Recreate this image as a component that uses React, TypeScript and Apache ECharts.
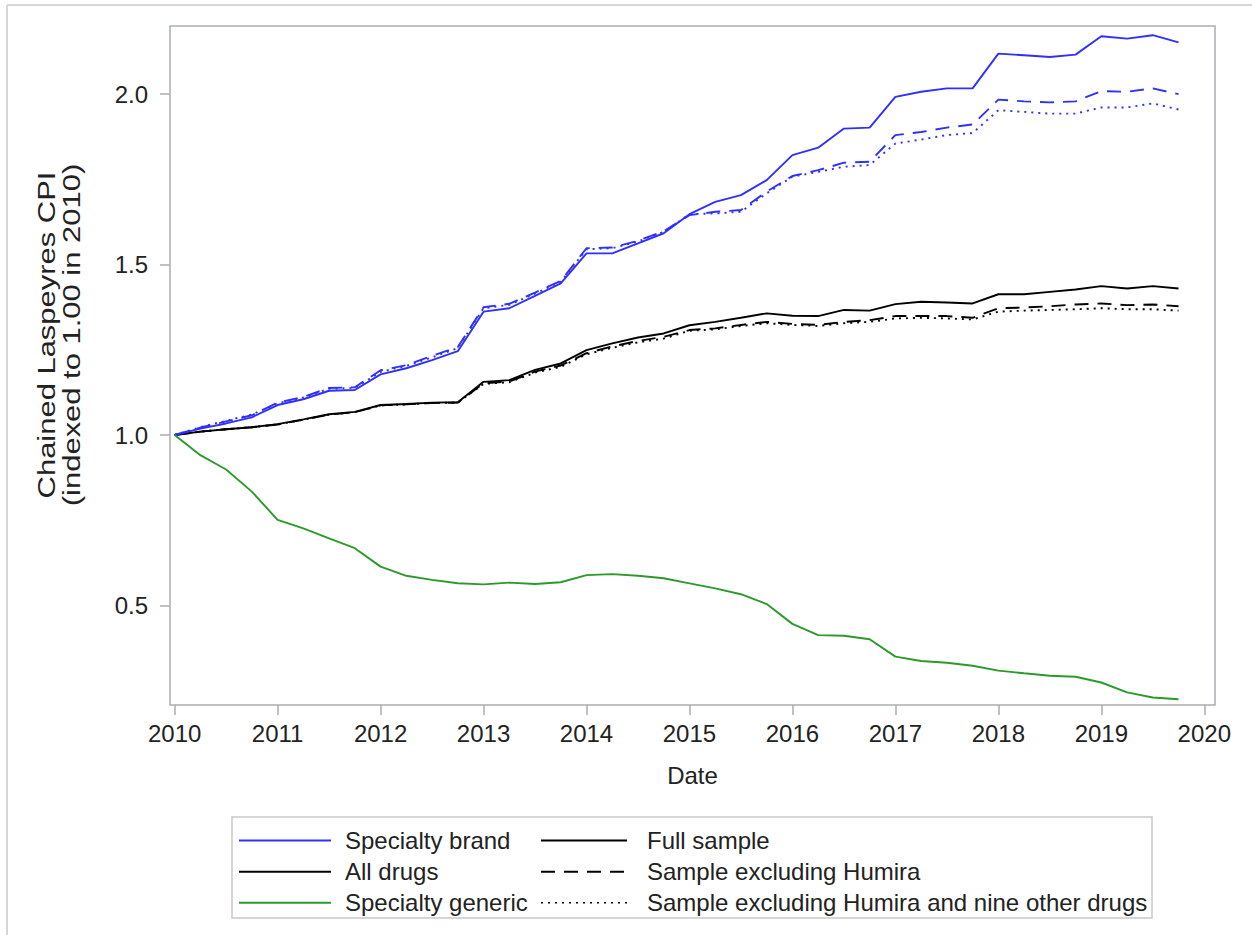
import { useEffect, useRef } from 'react';
import * as echarts from 'echarts';

// Quarter start dates (decimal years)
const quarters = [
  2010, 2010.25, 2010.5, 2010.75, 2011, 2011.25, 2011.5, 2011.75,
  2012, 2012.25, 2012.5, 2012.75, 2013, 2013.25, 2013.5, 2013.75,
  2014, 2014.25, 2014.5, 2014.75, 2015, 2015.25, 2015.5, 2015.75,
  2016, 2016.25, 2016.5, 2016.75, 2017, 2017.25, 2017.5, 2017.75,
  2018, 2018.25, 2018.5, 2018.75, 2019, 2019.25, 2019.5, 2019.75,
];

const xTicks = [2010, 2011, 2012, 2013, 2014, 2015, 2016, 2017, 2018, 2019, 2020];
const yTicks = [0.5, 1.0, 1.5, 2.0];
const yTitleLines = ['Chained Laspeyres CPI', '(indexed to 1.00 in 2010)'];
const xTitle = 'Date';

// Specialty brand
const specialtyBrandFull = [
  1.000, 1.019, 1.034, 1.052, 1.088, 1.105, 1.130, 1.132, 1.178, 1.196,
  1.220, 1.246, 1.362, 1.372, 1.408, 1.445, 1.533, 1.533, 1.562, 1.592,
  1.648, 1.684, 1.704, 1.748, 1.821, 1.843, 1.899, 1.902, 1.992, 2.007,
  2.017, 2.017, 2.119, 2.114, 2.109, 2.116, 2.170, 2.163, 2.173, 2.152,
];
const specialtyBrandExHumira = [
  1.000, 1.022, 1.040, 1.058, 1.095, 1.112, 1.138, 1.140, 1.190, 1.205,
  1.232, 1.258, 1.375, 1.385, 1.418, 1.452, 1.548, 1.550, 1.570, 1.598,
  1.645, 1.655, 1.660, 1.714, 1.760, 1.777, 1.799, 1.802, 1.880, 1.889,
  1.902, 1.911, 1.984, 1.979, 1.976, 1.979, 2.009, 2.007, 2.017, 2.000,
];
const specialtyBrandExTen = [
  1.000, 1.023, 1.042, 1.060, 1.093, 1.110, 1.136, 1.138, 1.185, 1.203,
  1.228, 1.255, 1.372, 1.382, 1.415, 1.450, 1.545, 1.548, 1.568, 1.596,
  1.648, 1.650, 1.655, 1.709, 1.758, 1.772, 1.787, 1.792, 1.855, 1.867,
  1.880, 1.886, 1.953, 1.948, 1.943, 1.943, 1.961, 1.961, 1.973, 1.955,
];

// All drugs
const allDrugsFull = [
  1.000, 1.010, 1.017, 1.023, 1.032, 1.046, 1.061, 1.068, 1.088, 1.091,
  1.095, 1.096, 1.156, 1.161, 1.191, 1.210, 1.249, 1.269, 1.286, 1.298,
  1.322, 1.332, 1.344, 1.357, 1.350, 1.349, 1.367, 1.365, 1.384, 1.391,
  1.389, 1.386, 1.413, 1.413, 1.420, 1.427, 1.437, 1.430, 1.437, 1.430,
];
const allDrugsExHumira = [
  1.000, 1.010, 1.017, 1.023, 1.031, 1.045, 1.060, 1.067, 1.087, 1.090,
  1.094, 1.095, 1.152, 1.157, 1.186, 1.204, 1.240, 1.260, 1.276, 1.288,
  1.308, 1.313, 1.323, 1.332, 1.326, 1.323, 1.332, 1.337, 1.349, 1.349,
  1.349, 1.344, 1.372, 1.374, 1.378, 1.383, 1.386, 1.381, 1.383, 1.378,
];
const allDrugsExTen = [
  1.000, 1.010, 1.017, 1.023, 1.031, 1.045, 1.060, 1.067, 1.087, 1.090,
  1.094, 1.095, 1.150, 1.155, 1.183, 1.200, 1.237, 1.256, 1.272, 1.283,
  1.306, 1.310, 1.320, 1.328, 1.323, 1.320, 1.328, 1.332, 1.342, 1.344,
  1.342, 1.339, 1.362, 1.365, 1.367, 1.369, 1.372, 1.369, 1.369, 1.365,
];

// Specialty generic
const specialtyGeneric = [
  1.000, 0.941, 0.899, 0.834, 0.751, 0.726, 0.697, 0.668, 0.614, 0.587,
  0.575, 0.565, 0.562, 0.567, 0.563, 0.568, 0.589, 0.592, 0.587, 0.580,
  0.565, 0.550, 0.533, 0.504, 0.446, 0.413, 0.411, 0.401, 0.350, 0.337,
  0.332, 0.323, 0.309, 0.301, 0.294, 0.291, 0.274, 0.245, 0.230, 0.225,
];

const groupNames = ['Specialty brand', 'All drugs', 'Specialty generic'];
const sampleNames = ['Full sample', 'Sample excluding Humira', 'Sample excluding Humira and nine other drugs'];

const BLUE = '#2f2fff';
const BLACK = '#000000';
const GREEN = '#2b9a2b';
const FRAME = '#a9aeb3';
const TEXT = '#222222';
const FONT = 'Arial, "Liberation Sans", Helvetica, sans-serif';
const DASHED: number[] = [14, 9];
const DOTTED: number[] = [2, 5];

const pairs = (vals: number[]) => quarters.map((q, i) => [q, vals[i]]);

const mkSeries = (name: string, vals: number[], color: string, type: any) => ({
  name,
  type: 'line',
  data: pairs(vals),
  showSymbol: false,
  symbol: 'none',
  lineStyle: { color, width: 1.9, type, cap: 'butt' },
  itemStyle: { color },
  z: 3,
});

export default function App() {
  const ref = useRef<HTMLDivElement>(null);

  useEffect(() => {
    if (!ref.current) return;
    const chart = echarts.init(ref.current, null, { renderer: 'svg' });

    const legendRows = [840.5, 871.7, 902.7];
    const groupColors = [BLUE, BLACK, GREEN];
    const sampleDash: any[] = [null, DASHED, DOTTED];
    const legendGraphics: any[] = [
      {
        type: 'rect',
        shape: { x: 232, y: 817, width: 920, height: 101 },
        style: { fill: 'none', stroke: '#c9c9c9', lineWidth: 1.5 },
        silent: true,
      },
    ];
    legendRows.forEach((y, i) => {
      legendGraphics.push({
        type: 'line',
        shape: { x1: 239, y1: y, x2: 331, y2: y },
        style: { stroke: groupColors[i], lineWidth: 2 },
        silent: true,
      });
      legendGraphics.push({
        type: 'text',
        style: {
          text: groupNames[i], x: 345, y, fill: TEXT, fontSize: 24, fontFamily: FONT,
          align: 'left', verticalAlign: 'middle',
        },
        silent: true,
      });
      legendGraphics.push({
        type: 'line',
        shape: { x1: 541, y1: y, x2: 627, y2: y },
        style: { stroke: BLACK, lineWidth: i === 2 ? 1.5 : 2, lineDash: sampleDash[i] || undefined },
        silent: true,
      });
      legendGraphics.push({
        type: 'text',
        style: {
          text: sampleNames[i], x: 647, y, fill: TEXT, fontSize: 24, fontFamily: FONT,
          align: 'left', verticalAlign: 'middle',
        },
        silent: true,
      });
    });

    const yTitleGraphics = yTitleLines.map((t, i) => ({
      type: 'text',
      x: 47 + i * 25,
      y: 335,
      rotation: Math.PI / 2,
      scaleX: 1.29,
      scaleY: 1,
      style: {
        text: t, x: 0, y: 0, fill: TEXT, fontSize: 24, fontFamily: FONT,
        align: 'center', verticalAlign: 'middle',
      },
      silent: true,
    }));

    const option: any = {
      animation: false,
      backgroundColor: '#ffffff',
      textStyle: { fontFamily: FONT },
      grid: {
        left: 170, top: 26, width: 1045, height: 679,
        show: true, borderColor: FRAME, borderWidth: 1.5, backgroundColor: 'transparent',
        containLabel: false,
      },
      xAxis: {
        type: 'value',
        min: 2009.955,
        max: 2020.104,
        axisLine: { show: false },
        splitLine: { show: false },
        axisTick: { show: true, length: 10, lineStyle: { color: FRAME, width: 1.5 }, customValues: xTicks },
        axisLabel: {
          customValues: xTicks, color: TEXT, fontSize: 24, fontFamily: FONT, margin: 16,
          formatter: (v: number) => String(Math.round(v)),
        },
        name: xTitle,
        nameLocation: 'middle',
        nameGap: 58,
        nameTextStyle: { color: TEXT, fontSize: 24, fontFamily: FONT },
      },
      yAxis: {
        type: 'value',
        min: 0.208,
        max: 2.2,
        axisLine: { show: false },
        splitLine: { show: false },
        axisTick: { show: true, length: 10, lineStyle: { color: FRAME, width: 1.5 }, customValues: yTicks },
        axisLabel: {
          customValues: yTicks, color: TEXT, fontSize: 24, fontFamily: FONT, margin: 22,
          formatter: (v: number) => v.toFixed(1),
        },
      },
      graphic: [
        {
          type: 'line',
          shape: { x1: 7, y1: 5, x2: 1252, y2: 5 },
          style: { stroke: '#d6d6d6', lineWidth: 2 },
          silent: true,
        },
        {
          type: 'line',
          shape: { x1: 7, y1: 5, x2: 7, y2: 935 },
          style: { stroke: '#d6d6d6', lineWidth: 2 },
          silent: true,
        },
        ...yTitleGraphics,
        ...legendGraphics,
      ],
      series: [
        mkSeries('All drugs — Full sample', allDrugsFull, BLACK, 'solid'),
        mkSeries('All drugs — Sample excluding Humira', allDrugsExHumira, BLACK, DASHED),
        mkSeries('All drugs — Sample excluding Humira and nine other drugs', allDrugsExTen, BLACK, DOTTED),
        mkSeries('Specialty brand — Full sample', specialtyBrandFull, BLUE, 'solid'),
        mkSeries('Specialty brand — Sample excluding Humira', specialtyBrandExHumira, BLUE, DASHED),
        mkSeries('Specialty brand — Sample excluding Humira and nine other drugs', specialtyBrandExTen, BLUE, DOTTED),
        mkSeries('Specialty generic', specialtyGeneric, GREEN, 'solid'),
      ],
    };

    chart.setOption(option);
    return () => chart.dispose();
  }, []);

  return (
    <div
      ref={ref}
      style={{ position: 'fixed', left: 0, top: 0, width: 1252, height: 935, background: '#ffffff' }}
    />
  );
}
